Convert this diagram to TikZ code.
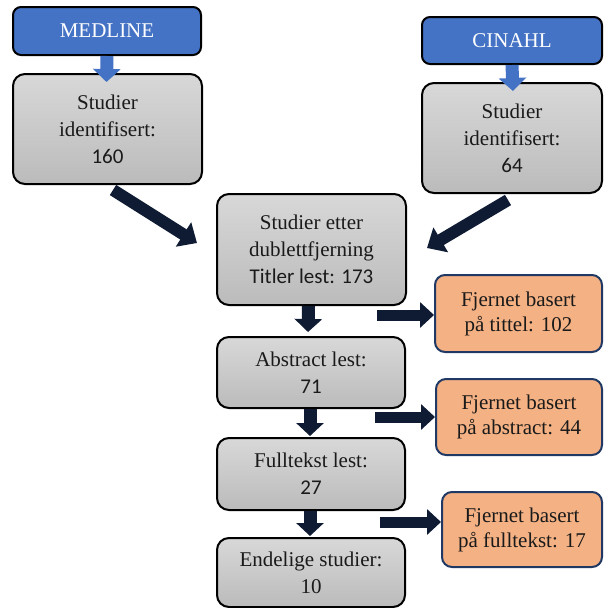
\documentclass[tikz,border=0pt]{standalone}
\usepackage{fontspec}
\setmainfont{Liberation Serif}
\newfontfamily\calfont{Carlito}
\usetikzlibrary{arrows.meta,calc}
\definecolor{dbblue}{HTML}{4472C4}
\definecolor{gtop}{HTML}{D8D8D8}
\definecolor{gbot}{HTML}{BBBBBB}
\definecolor{orangefill}{HTML}{F4B183}
\definecolor{orangeline}{HTML}{1F3864}
\definecolor{arrowdark}{HTML}{0E1B33}
\definecolor{txt}{HTML}{1A1A1A}
\tikzset{
  x=1pt, y=-1pt,
  basefont/.style={font=\fontsize{21}{27}\selectfont, align=center, inner sep=0pt},
  dbbox/.style={basefont, draw=black, line width=2pt, rounded corners=8pt, fill=dbblue, text=white},
  graybox/.style={basefont, draw=black, line width=2pt, rounded corners=12pt, top color=gtop, bottom color=gbot, text=txt},
  orangebox/.style={basefont, draw=orangeline, line width=2pt, rounded corners=10pt, fill=orangefill, text=txt, font=\fontsize{21}{25}\selectfont},
  bluearrow/.style={draw=dbblue, line width=13pt, -{Triangle[length=13pt,width=27pt,fill=dbblue]}},
  downarrow/.style={draw=arrowdark, line width=13pt, -{Triangle[length=13pt,width=27pt,fill=arrowdark]}},
  rightarrow/.style={draw=arrowdark, line width=11pt, -{Triangle[length=14pt,width=25pt,fill=arrowdark]}},
  diagarrow/.style={draw=arrowdark, line width=12pt, -{Triangle[length=16pt,width=28pt,fill=arrowdark]}},
}
\begin{document}
\begin{tikzpicture}
\useasboundingbox (0,0) rectangle (603,608);
% database boxes
\node[dbbox, minimum width=188pt, minimum height=48pt] (med) at (107,31) {MEDLINE};
\node[dbbox, minimum width=180pt, minimum height=47pt] (cin) at (512,40.5) {CINAHL};
% identified
\node[graybox, minimum width=189pt, minimum height=110pt] (g1) at (107.5,129) {Studier\\identifisert:\\{\calfont 160}};
\node[graybox, minimum width=180pt, minimum height=110pt] (g2) at (512,138) {Studier\\identifisert:\\{\calfont 64}};
% main column
\node[graybox, minimum width=189pt, minimum height=111pt] (g3) at (311.5,249.5) {Studier etter\\dublettfjerning\\{\calfont Titler lest: 173}};
\node[graybox, minimum width=188pt, minimum height=71pt] (g4) at (311,372.5) {Abstract lest:\\{\calfont 71}};
\node[graybox, minimum width=188pt, minimum height=72pt] (g5) at (311,474) {Fulltekst lest:\\{\calfont 27}};
\node[graybox, minimum width=188pt, minimum height=69pt] (g6) at (311,572.5) {Endelige studier:\\10};
% removed
\node[orangebox, minimum width=167pt, minimum height=77pt] (o1) at (518.5,313.5) {Fjernet basert\\på tittel: 102};
\node[orangebox, minimum width=166pt, minimum height=76pt] (o2) at (519,417) {Fjernet basert\\på abstract: 44};
\node[orangebox, minimum width=160pt, minimum height=75pt] (o3) at (522,529.5) {Fjernet basert\\på fulltekst: 17};
% connector coordinates
\coordinate (mtip) at ($(g1.north)+(-1,9)$);
\coordinate (ctip) at ($(g2.north)+(1,9)$);
\coordinate (d1s) at (113,190);
\coordinate (d1e) at (197,243);
\coordinate (d2s) at (508,200);
\coordinate (d2e) at (427,248);
\coordinate (r1) at (377,315);
\coordinate (r2) at (375,417);
\coordinate (r3) at (380,522);
% arrows
\draw[bluearrow] (med.south) -- (mtip);
\draw[bluearrow] (cin.south) -- (ctip);
\draw[diagarrow] (d1s) -- (d1e);
\draw[diagarrow] (d2s) -- (d2e);
\draw[downarrow] ($(g3.south)+(-3,0)$) -- ($(g4.north)+(-3,-4)$);
\draw[downarrow] ($(g4.south)+(-1,0)$) -- ($(g5.north)+(-1,-1)$);
\draw[downarrow] ($(g5.south)+(-1,0)$) -- ($(g6.north)+(-1,-1)$);
\draw[rightarrow] (r1) -- (o1.west |- r1);
\draw[rightarrow] (r2) -- (o2.west |- r2);
\draw[rightarrow] (r3) -- (o3.west |- r3);
\end{tikzpicture}
\end{document}
